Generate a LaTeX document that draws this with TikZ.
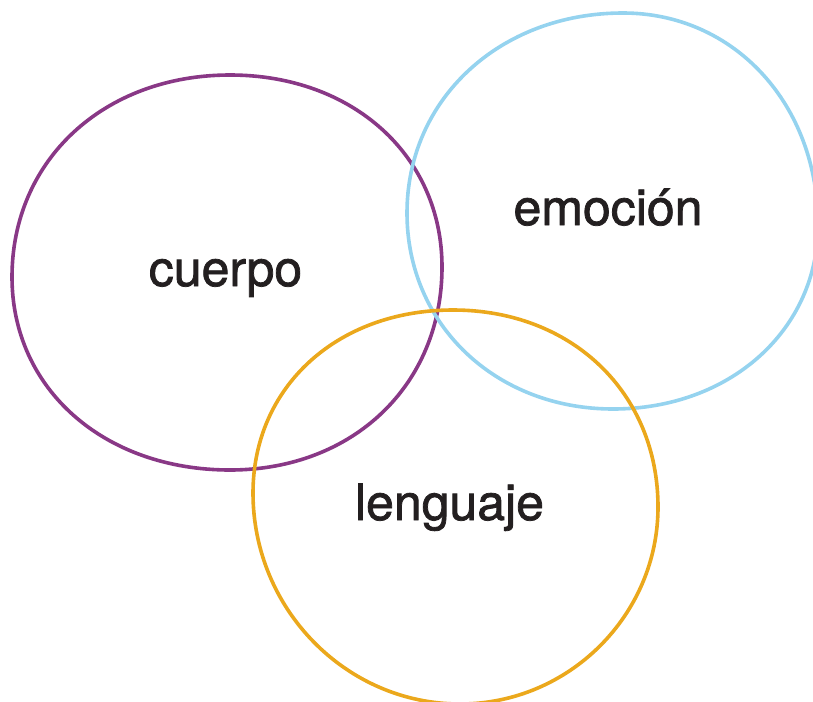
\documentclass[tikz,border=0pt]{standalone}
\usepackage{fontspec}
\setmainfont{TeX Gyre Heros}
\newfontfamily\wordfont[RawFeature={embolden=1.5}]{TeX Gyre Heros}
\usepackage{tikz}
\definecolor{cuerpoc}{RGB}{137,56,134}
\definecolor{emocionc}{RGB}{149,211,239}
\definecolor{lenguajec}{RGB}{235,168,28}
\definecolor{ink}{RGB}{35,31,32}

\begin{document}
\begin{tikzpicture}[x=1pt,y=-1pt,
    blob/.style={line width=3.6pt},
    word/.style={anchor=base,text=ink,font=\wordfont\fontsize{50}{60}\selectfont}]
    \useasboundingbox (0,0) rectangle (813,701);
    % cuerpo
    \draw[blob,cuerpoc] (12,277) .. controls (12,160) and (104,75) .. (230,75)
        .. controls (353,75) and (442,156) .. (442,267)
        .. controls (442,385) and (353,470) .. (230,470)
        .. controls (104,470) and (12,389) .. cycle;
    % emocion
    \draw[blob,emocionc] (407,213) .. controls (407,99) and (500,13) .. (623,13)
        .. controls (734,13) and (818,104) .. (818,225)
        .. controls (818,330) and (730,409) .. (613,409)
        .. controls (496,409) and (407,325) .. cycle;
    % lenguaje
    \draw[blob,lenguajec] (253,493) .. controls (253,387) and (337,310) .. (453,310)
        .. controls (572,310) and (658,393) .. (658,507)
        .. controls (658,615) and (569,704) .. (460,704)
        .. controls (346,704) and (253,609) .. cycle;
    \node[word] (cuerpo) at (225.5,286) {cuerpo};
    \node[word] (emocion) at (608,225) {emoción};
    \node[word] (lenguaje) at (449.5,520) {lenguaje};
\end{tikzpicture}
\end{document}
